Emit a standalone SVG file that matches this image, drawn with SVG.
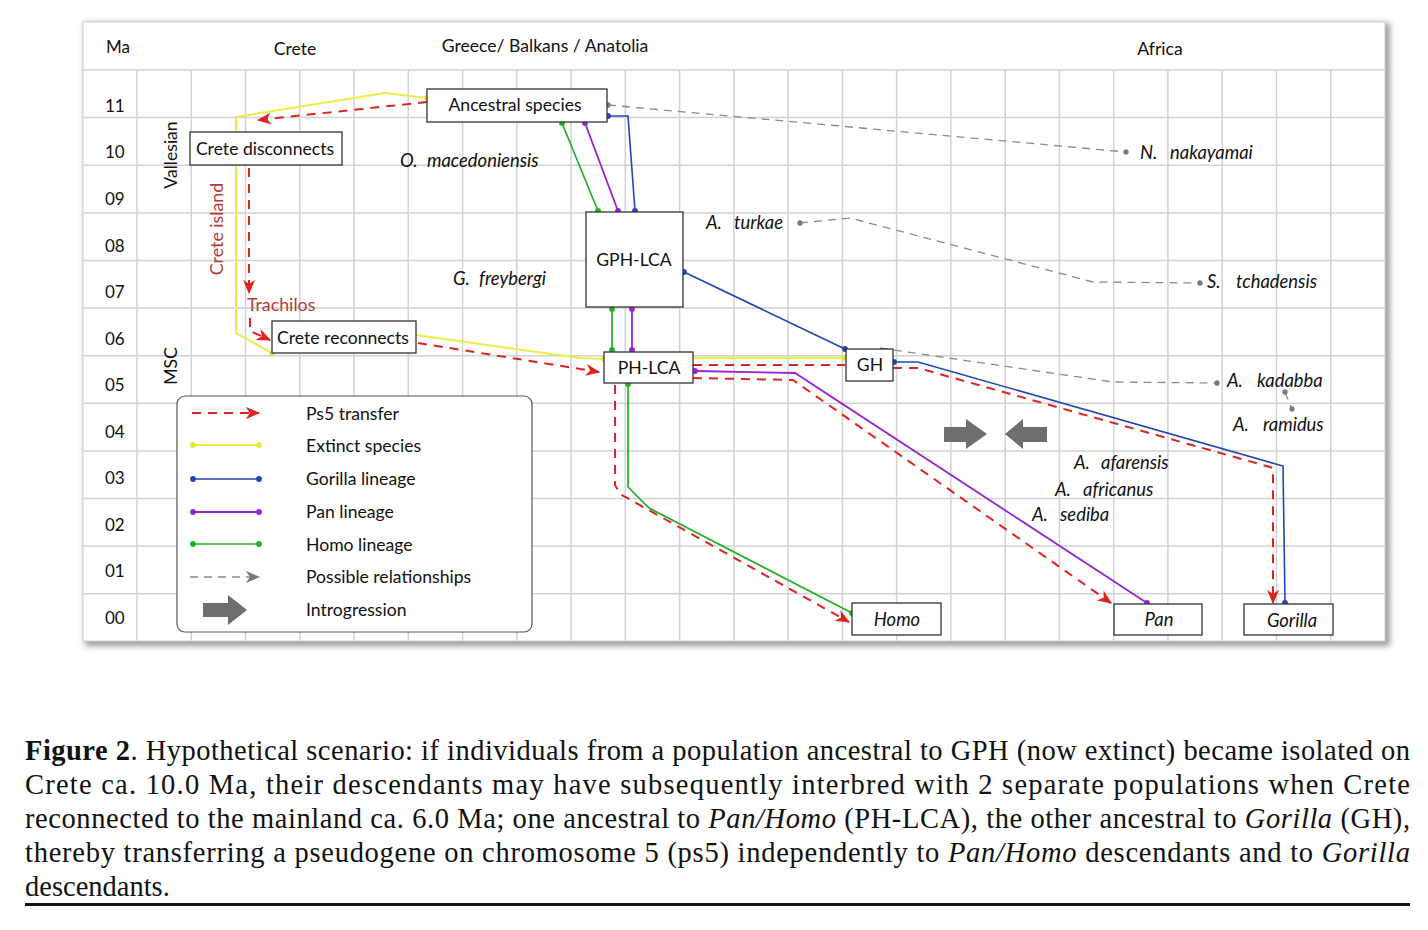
<svg xmlns="http://www.w3.org/2000/svg" width="1428" height="930" viewBox="0 0 1428 930">
<style>
.grid{stroke:#d2d2d2;stroke-width:1.5;fill:none}
.lbl{font-family:Lato,"Liberation Sans",sans-serif;font-size:17.6px;fill:#111}
.ax{font-family:Lato,"Liberation Sans",sans-serif;font-size:17px;fill:#111}
.it{font-family:Lato,"Liberation Sans",sans-serif;font-size:18.4px;font-style:italic;fill:#111}
.red{font-family:Lato,"Liberation Sans",sans-serif;font-size:17.8px;fill:#b33a3a}
.box{fill:#fff;stroke:#333;stroke-width:1.3}
.yl{stroke:#eded45;stroke-width:2;fill:none}
.bl{stroke:#2545b5;stroke-width:1.6;fill:none}
.pl{stroke:#9a22d6;stroke-width:1.8;fill:none}
.gl{stroke:#22b022;stroke-width:1.7;fill:none}
.rd{stroke:#e02222;stroke-width:2;stroke-dasharray:9 7;fill:none}
.gd{stroke:#8a8a8a;stroke-width:1.3;stroke-dasharray:8 6;fill:none}
.blk{fill:#6e6e6e}
.cap{font-family:"Liberation Serif","Times New Roman",serif;font-size:28.5px;fill:#111}
</style>
<defs>
<filter id="sh" x="-5%" y="-5%" width="110%" height="110%"><feGaussianBlur stdDeviation="3"/></filter>
<marker id="dY" viewBox="-5 -5 10 10" refX="0" refY="0" markerWidth="8" markerHeight="8" markerUnits="userSpaceOnUse"><circle r="3.6" fill="#e6e63a"/></marker>
<marker id="dB" viewBox="-5 -5 10 10" refX="0" refY="0" markerWidth="8" markerHeight="8" markerUnits="userSpaceOnUse"><circle r="3.6" fill="#2545b5"/></marker>
<marker id="dP" viewBox="-5 -5 10 10" refX="0" refY="0" markerWidth="8" markerHeight="8" markerUnits="userSpaceOnUse"><circle r="3.6" fill="#9a22d6"/></marker>
<marker id="dG" viewBox="-5 -5 10 10" refX="0" refY="0" markerWidth="8" markerHeight="8" markerUnits="userSpaceOnUse"><circle r="3.6" fill="#22b022"/></marker>
<marker id="dK" viewBox="-5 -5 10 10" refX="0" refY="0" markerWidth="8" markerHeight="8" markerUnits="userSpaceOnUse"><circle r="3.3" fill="#7a7a7a"/></marker>
<marker id="aR" viewBox="0 0 12 10" refX="11" refY="5" markerWidth="15" markerHeight="12" markerUnits="userSpaceOnUse" orient="auto"><path d="M0,0 L12,5 L0,10 L3.5,5 z" fill="#e02222"/></marker>
<marker id="aK" viewBox="0 0 12 10" refX="11" refY="5" markerWidth="15" markerHeight="12" markerUnits="userSpaceOnUse" orient="auto"><path d="M0,0 L12,5 L0,10 L3.5,5 z" fill="#7a7a7a"/></marker>
</defs>
<rect width="1428" height="930" fill="#fff"/>
<g id="chart">
<rect x="85" y="23" width="1305" height="623" fill="#9a9a9a" filter="url(#sh)"/>
<rect x="83" y="22" width="1302" height="619" fill="#fff" stroke="#cfcfcf" stroke-width="1"/>
<g class="grid">
<path d="M83,70H1385M83,117.6H1385M83,165.3H1385M83,212.9H1385M83,260.5H1385M83,308.1H1385M83,355.7H1385M83,403.3H1385M83,450.9H1385M83,498.5H1385M83,546.1H1385M83,593.7H1385"/>
<path d="M137,70V641M191.3,70V641M245.5,70V641M299.8,70V641M354,70V641M408.3,70V641M462.6,70V641M516.8,70V641M571.1,70V641M625.3,70V641M679.6,70V641M733.9,70V641M788.1,70V641M842.4,70V641M896.6,70V641M950.9,70V641M1005.2,70V641M1059.4,70V641M1113.7,70V641M1167.9,70V641M1222.2,70V641M1276.5,70V641M1330.7,70V641"/>
</g>
<text class="ax" x="106" y="53">Ma</text>
<text class="lbl" x="295" y="55" text-anchor="middle">Crete</text>
<text class="lbl" x="545" y="52" text-anchor="middle">Greece/ Balkans / Anatolia</text>
<text class="lbl" x="1160" y="55" text-anchor="middle">Africa</text>
<g class="ax">
<text x="105" y="112">11</text><text x="105" y="158">10</text><text x="105" y="205">09</text><text x="105" y="252">08</text><text x="105" y="298">07</text><text x="105" y="345">06</text><text x="105" y="391">05</text><text x="105" y="438">04</text><text x="105" y="484">03</text><text x="105" y="531">02</text><text x="105" y="577">01</text><text x="105" y="624">00</text>
</g>
<text class="lbl" transform="translate(177,155) rotate(-90)" text-anchor="middle">Vallesian</text>
<text class="lbl" transform="translate(177,366) rotate(-90)" text-anchor="middle">MSC</text>
<text class="red" transform="translate(223,229) rotate(-90)" text-anchor="middle">Crete island</text>
<text class="red" x="247" y="311">Trachilos</text>
</g>
<g id="connectors">
<path class="yl" d="M427,98 L385,93 L236,117 L236,333 L272,353" marker-start="url(#dY)" marker-end="url(#dY)"/>
<path class="yl" d="M416,335 L580,358 L604,359" marker-end="url(#dY)"/>
<path class="yl" d="M693,358 L845,358" marker-end="url(#dY)"/>
<path class="bl" d="M608,116 L628,116 L635,211" marker-start="url(#dB)" marker-end="url(#dB)"/>
<path class="bl" d="M684,272 L845,349" marker-start="url(#dB)" marker-end="url(#dB)"/>
<path class="bl" d="M894,362 L918,362 L1283,466 L1285,603" marker-start="url(#dB)" marker-end="url(#dB)"/>
<path class="pl" d="M585,123 L618,211" marker-start="url(#dP)" marker-end="url(#dP)"/>
<path class="pl" d="M632,309 L632,350" marker-start="url(#dP)" marker-end="url(#dP)"/>
<path class="pl" d="M695,371 L795,373 L1147,603" marker-start="url(#dP)" marker-end="url(#dP)"/>
<path class="gl" d="M562,123 L598,211" marker-start="url(#dG)" marker-end="url(#dG)"/>
<path class="gl" d="M612,309 L612,350" marker-start="url(#dG)" marker-end="url(#dG)"/>
<path class="gl" d="M628,384 L628,487 L649,508 L852,613" marker-start="url(#dG)" marker-end="url(#dG)"/>
<path class="rd" d="M427,102 L258,120" marker-end="url(#aR)"/>
<path class="rd" d="M249,168 L249,293" marker-end="url(#aR)"/>
<path class="rd" d="M250,318 L250,331 L270,340" marker-end="url(#aR)"/>
<path class="rd" d="M418,343 L599,372" marker-end="url(#aR)"/>
<path class="rd" d="M693,365 L845,365"/>
<path class="rd" d="M693,378 L793,380 L1111,603" marker-end="url(#aR)"/>
<path class="rd" d="M893,368 L918,368 L1270,467 L1273,468 L1273,603" marker-end="url(#aR)"/>
<path class="rd" d="M615,385 L615,485 L620,494 L849,622" marker-end="url(#aR)"/>
<path class="gd" d="M608,105 L1126,152" marker-start="url(#dK)" marker-end="url(#dK)"/>
<path class="gd" d="M800,223 L850,218 L1093,282 L1200,283" marker-start="url(#dK)" marker-end="url(#dK)"/>
<path class="gd" d="M880,348 L1113,382 L1217,383" marker-end="url(#dK)"/>
<path class="gd" d="M1285,392 L1292,409" stroke-dasharray="none" marker-start="url(#dK)" marker-end="url(#dK)"/>
<polygon class="blk" points="944,427 966,427 966,419 987,434 966,449 966,442 944,442"/>
<polygon class="blk" points="1047,427 1023,427 1023,419 1005,434 1023,449 1023,442 1047,442"/>
</g>
<g id="n-ancestral"><rect class="box" x="427" y="89" width="180" height="33"/><text class="lbl" x="515" y="111" text-anchor="middle">Ancestral species</text></g>
<g id="n-disconnects"><rect class="box" x="190" y="132" width="152" height="33"/><text class="lbl" x="265" y="155" text-anchor="middle">Crete disconnects</text></g>
<g id="n-gph"><rect class="box" x="586" y="212" width="97" height="95"/><text class="lbl" x="634" y="266" text-anchor="middle">GPH-LCA</text></g>
<g id="n-reconnects"><rect class="box" x="272" y="321" width="144" height="32"/><text class="lbl" x="343" y="344" text-anchor="middle">Crete reconnects</text></g>
<g id="n-ph"><rect class="box" x="604" y="352" width="89" height="31"/><text class="lbl" x="649" y="374" text-anchor="middle">PH-LCA</text></g>
<g id="n-gh"><rect class="box" x="846" y="349" width="47" height="32"/><text class="lbl" x="870" y="371" text-anchor="middle">GH</text></g>
<g id="n-homo"><rect class="box" x="852" y="603" width="89" height="32"/><text class="it" x="897" y="626" text-anchor="middle">Homo</text></g>
<g id="n-pan"><rect class="box" x="1114" y="604" width="88" height="31"/><text class="it" x="1159" y="626" text-anchor="middle">Pan</text></g>
<g id="n-gorilla"><rect class="box" x="1244" y="604" width="89" height="31"/><text class="it" x="1292" y="627" text-anchor="middle">Gorilla</text></g>
<g id="species">
<text class="it" y="167"><tspan x="400">O.</tspan><tspan x="427">macedoniensis</tspan></text>
<text class="it" y="285"><tspan x="453">G.</tspan><tspan x="479">freybergi</tspan></text>
<text class="it" y="229"><tspan x="706">A.</tspan><tspan x="734">turkae</tspan></text>
<text class="it" y="159"><tspan x="1140">N.</tspan><tspan x="1170">nakayamai</tspan></text>
<text class="it" y="288"><tspan x="1207">S.</tspan><tspan x="1236">tchadensis</tspan></text>
<text class="it" y="387"><tspan x="1227">A.</tspan><tspan x="1257">kadabba</tspan></text>
<text class="it" y="431"><tspan x="1233">A.</tspan><tspan x="1263">ramidus</tspan></text>
<text class="it" y="469"><tspan x="1074">A.</tspan><tspan x="1101">afarensis</tspan></text>
<text class="it" y="496"><tspan x="1055">A.</tspan><tspan x="1083">africanus</tspan></text>
<text class="it" y="521"><tspan x="1032">A.</tspan><tspan x="1060">sediba</tspan></text>
</g>
<g id="legend">
<rect x="177" y="396" width="355" height="236" rx="8" fill="#fff" stroke="#555" stroke-width="1.2"/>
<path class="rd" d="M192,413 L259,413" marker-end="url(#aR)"/>
<path class="yl" d="M193,445 L259,445" marker-start="url(#dY)" marker-end="url(#dY)"/>
<path class="bl" d="M193,479 L259,479" marker-start="url(#dB)" marker-end="url(#dB)"/>
<path class="pl" d="M193,512 L259,512" marker-start="url(#dP)" marker-end="url(#dP)"/>
<path class="gl" d="M193,544 L259,544" marker-start="url(#dG)" marker-end="url(#dG)"/>
<path class="gd" d="M190,577 L259,577" marker-end="url(#aK)"/>
<polygon class="blk" points="203,603 228,603 228,595 247,610 228,625 228,617 203,617"/>
<text class="lbl" x="306" y="420">Ps5 transfer</text>
<text class="lbl" x="306" y="452">Extinct species</text>
<text class="lbl" x="306" y="485">Gorilla lineage</text>
<text class="lbl" x="306" y="518">Pan lineage</text>
<text class="lbl" x="306" y="551">Homo lineage</text>
<text class="lbl" x="306" y="583">Possible relationships</text>
<text class="lbl" x="306" y="616">Introgression</text>
</g>
<g id="caption">
<text class="cap" x="25" y="760" textLength="1385" lengthAdjust="spacing"><tspan font-weight="bold">Figure 2</tspan>. Hypothetical scenario: if individuals from a population ancestral to GPH (now extinct) became isolated on</text>
<text class="cap" x="25" y="794" textLength="1385" lengthAdjust="spacing">Crete ca. 10.0 Ma, their descendants may have subsequently interbred with 2 separate populations when Crete</text>
<text class="cap" x="25" y="828" textLength="1385" lengthAdjust="spacing">reconnected to the mainland ca. 6.0 Ma; one ancestral to <tspan font-style="italic">Pan/Homo</tspan> (PH-LCA), the other ancestral to <tspan font-style="italic">Gorilla</tspan> (GH),</text>
<text class="cap" x="25" y="862" textLength="1385" lengthAdjust="spacing">thereby transferring a pseudogene on chromosome 5 (ps5) independently to <tspan font-style="italic">Pan/Homo</tspan> descendants and to <tspan font-style="italic">Gorilla</tspan></text>
<text class="cap" x="25" y="896">descendants.</text>
<rect x="25" y="903" width="1385" height="3" fill="#111"/>
</g>
</svg>
